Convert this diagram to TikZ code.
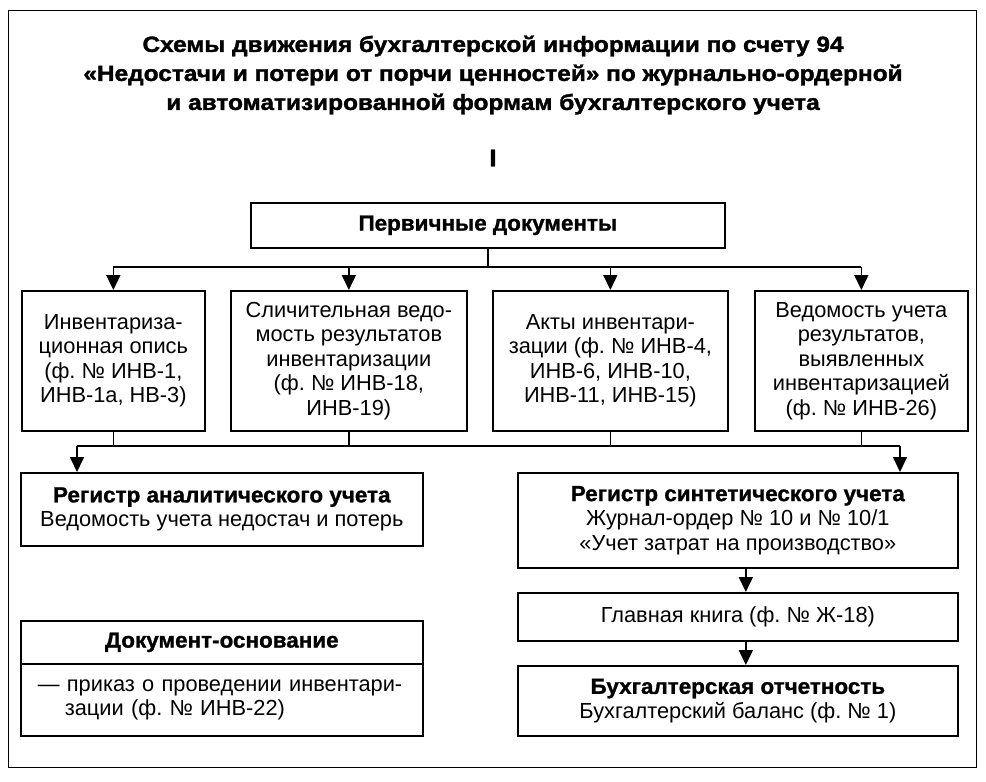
\documentclass[tikz,border=0pt]{standalone}
\usepackage{fontspec}
\setmainfont{Liberation Sans}[BoldFeatures={FakeStretch=1.03,FakeBold=1.2}]
\newfontfamily\titlefont{Liberation Sans Bold}[FakeStretch=1.11,FakeBold=1.6]
\usetikzlibrary{arrows.meta,positioning}
\frenchspacing

\tikzset{
  docbox/.style={draw, line width=1.7pt, anchor=north west, inner sep=0pt, align=center,
    font=\fontsize{21.8}{24.5}\selectfont},
  conn/.style={line width=1.7pt},
  arr/.style={line width=1.7pt, -{Triangle[length=15pt,width=14pt]}},
}

\begin{document}
\begin{tikzpicture}[x=1pt, y=-1pt]
\useasboundingbox (0,0) rectangle (986,782);
\node[draw, line width=1.4pt, anchor=north west, minimum width=968, minimum height=757] (frame) at (8,10) {};
% title
\node[align=center, font=\titlefont\fontsize{22}{29}\selectfont] (title) at (493,75) {Схемы движения бухгалтерской информации по счету 94\\«Недостачи и потери от порчи ценностей» по журнально-ордерной\\и автоматизированной формам бухгалтерского учета};
\node[font=\titlefont\fontsize{24}{29}\selectfont] (part) at (493,158) {I};
% primary documents
\node[docbox, minimum width=474, minimum height=45] (prim) at (250,202) {\textbf{Первичные документы}};
\node[docbox, minimum width=183, minimum height=140] (opis) at (21,290) {Инвентариза-\\ционная опись\\(ф. № ИНВ-1,\\ИНВ-1а, НВ-3)};
\node[docbox, minimum width=236, minimum height=140] (slich) at (230,290) {Сличительная ведо-\\мость результатов\\инвентаризации\\(ф. № ИНВ-18,\\ИНВ-19)};
\node[docbox, minimum width=235, minimum height=140] (akty) at (492,290) {Акты инвентари-\\зации (ф. № ИНВ-4,\\ИНВ-6, ИНВ-10,\\ИНВ-11, ИНВ-15)};
\node[docbox, minimum width=213, minimum height=140] (itog) at (754,290) {Ведомость учета\\результатов,\\выявленных\\инвентаризацией\\(ф. № ИНВ-26)};
% registers
\node[docbox, minimum width=402, minimum height=73] (anal) at (20,472) {\textbf{Регистр аналитического учета}\\Ведомость учета недостач и потерь};
\node[docbox, minimum width=440, minimum height=95] (synt) at (517,472) {\textbf{Регистр синтетического учета}\\Журнал-ордер № 10 и № 10/1\\«Учет затрат на производство»};
\node[docbox, minimum width=440, minimum height=48] (book) at (517,592) {Главная книга (ф. № Ж-18)};
\node[docbox, minimum width=440, minimum height=70] (report) at (517,665) {\textbf{Бухгалтерская отчетность}\\Бухгалтерский баланс (ф. № 1)};
% document basis
\node[docbox, minimum width=402, minimum height=43] (osnhead) at (20,620) {\textbf{Документ-основание}};
\node[docbox, minimum width=402, minimum height=72, text width=368, align=left] (osnbody) at (20,663) {— приказ о проведении инвентари-\\\hspace*{27pt}зации (ф. № ИНВ-22)};

% connectors
\coordinate (busA) at (0,267);
\coordinate (aL) at (77,446);
\coordinate (aR) at (900,446);
\draw[conn] (prim.south) -- (prim.south |- busA);
\draw[conn] (opis.north |- busA) -- (itog.north |- busA);
\foreach \b in {opis,slich,akty,itog}
  \draw[arr] (\b.north |- busA) -- (\b.north);
\foreach \b in {opis,slich,akty,itog}
  \draw[conn] (\b.south) -- (\b.south |- aL);
\draw[conn] (aL) -- (aR);
\draw[arr] (aL) -- (aL |- anal.north);
\draw[arr] (aR) -- (aR |- synt.north);
\draw[arr] ([xshift=8pt]synt.south) -- ([xshift=8pt]book.north);
\draw[arr] ([xshift=8pt]book.south) -- ([xshift=8pt]report.north);
\end{tikzpicture}
\end{document}
